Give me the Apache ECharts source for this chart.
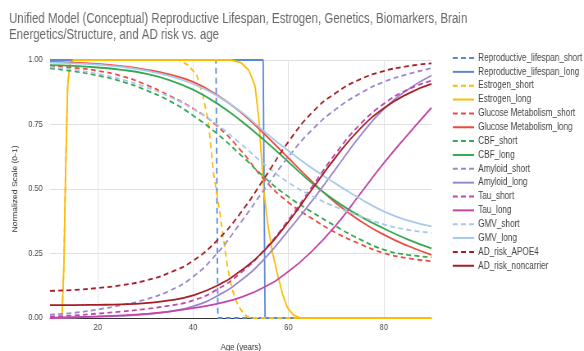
<!DOCTYPE html>
<html>
<head>
<meta charset="utf-8">
<script src="https://cdn.jsdelivr.net/npm/echarts@6/dist/echarts.min.js"></script>
<style>
  html, body { margin: 0; padding: 0; background: #fff; overflow: hidden; }
  /* the reference is a horizontally squeezed render, so draw wider and squeeze */
  #chart { width: 712px; height: 351px; transform: scaleX(0.8202); transform-origin: 0 0; }
</style>
</head>
<body>
<div id="chart"></div>
<script>
// ages shared by the smooth curves
const ages = [10, 15, 20, 25, 30, 35, 40, 45, 50, 55, 60, 65, 70, 75, 80, 85, 90];

const glucoseShort = [0.978, 0.970, 0.958, 0.938, 0.905, 0.862, 0.812, 0.745, 0.650, 0.535, 0.448, 0.385, 0.330, 0.287, 0.252, 0.232, 0.220];
const glucoseLong = [0.993, 0.990, 0.985, 0.976, 0.963, 0.944, 0.915, 0.865, 0.797, 0.712, 0.620, 0.528, 0.445, 0.377, 0.323, 0.280, 0.245];
const cbfShort = [0.968, 0.956, 0.940, 0.917, 0.884, 0.842, 0.785, 0.715, 0.632, 0.545, 0.470, 0.410, 0.355, 0.305, 0.265, 0.245, 0.236];
const cbfLong = [0.980, 0.977, 0.971, 0.962, 0.947, 0.922, 0.885, 0.832, 0.765, 0.688, 0.605, 0.522, 0.452, 0.395, 0.347, 0.305, 0.270];
const amyloidShort = [0.013, 0.020, 0.033, 0.050, 0.072, 0.105, 0.160, 0.250, 0.370, 0.500, 0.625, 0.730, 0.810, 0.870, 0.915, 0.945, 0.968];
const amyloidLong = [0.000, 0.002, 0.005, 0.008, 0.014, 0.025, 0.045, 0.085, 0.145, 0.230, 0.340, 0.455, 0.580, 0.705, 0.810, 0.885, 0.940];
const tauShort = [0.005, 0.010, 0.017, 0.025, 0.035, 0.048, 0.068, 0.110, 0.175, 0.265, 0.380, 0.510, 0.640, 0.750, 0.830, 0.885, 0.920];
const tauLong = [0.000, 0.003, 0.006, 0.010, 0.016, 0.025, 0.038, 0.055, 0.080, 0.120, 0.180, 0.260, 0.360, 0.480, 0.600, 0.710, 0.815];
const gmvShort = [0.972, 0.962, 0.946, 0.925, 0.895, 0.858, 0.810, 0.750, 0.675, 0.595, 0.525, 0.472, 0.430, 0.395, 0.363, 0.342, 0.330];
const gmvLong = [0.990, 0.987, 0.982, 0.973, 0.959, 0.938, 0.907, 0.862, 0.800, 0.722, 0.648, 0.580, 0.520, 0.463, 0.413, 0.378, 0.355];
const riskApoe4 = [0.105, 0.109, 0.116, 0.127, 0.145, 0.175, 0.222, 0.300, 0.408, 0.543, 0.683, 0.797, 0.873, 0.925, 0.957, 0.976, 0.987];
const riskNoncarrier = [0.050, 0.050, 0.051, 0.053, 0.058, 0.068, 0.088, 0.125, 0.183, 0.262, 0.373, 0.500, 0.625, 0.733, 0.813, 0.869, 0.907];

// step-like curves need their own ages
const reproShortAges = [10, 44.8, 45.2, 90];
const reproShortVals = [1, 1, 0, 0];
const reproLongAges = [10, 54.7, 55.1, 90];
const reproLongVals = [1, 1, 0, 0];
const estrogenShortAges = [10, 12.5, 12.9, 13.3, 13.7, 14.2, 15, 37, 39, 40.8, 42.1, 43.2, 44.3, 45, 45.6, 46.5, 47.3, 48.2, 49.5, 51, 52, 90];
const estrogenShortVals = [0, 0, 0.2, 0.6, 0.9, 0.99, 1, 1, 0.98, 0.94, 0.86, 0.76, 0.56, 0.48, 0.41, 0.29, 0.19, 0.11, 0.045, 0.01, 0, 0];
const estrogenLongAges = [10, 12.5, 12.9, 13.3, 13.7, 14.2, 15, 48, 50, 51.7, 53, 53.8, 54.8, 55.7, 56.6, 57.7, 58.8, 59.8, 61, 62.5, 90];
const estrogenLongVals = [0, 0, 0.2, 0.6, 0.9, 0.99, 1, 1, 0.99, 0.96, 0.9, 0.77, 0.5, 0.36, 0.26, 0.17, 0.09, 0.04, 0.012, 0, 0];

const xTicks = [20, 40, 60, 80];

const pair = (xs, ys) => xs.map((x, i) => [x, ys[i]]);

const C = {
  blue: '#5b87d7', yellow: '#fbbc04', red: '#ee4b3f', green: '#34a853',
  purple: '#9b87cf', magenta: '#c247a8', lightblue: '#a7c9ec', darkred: '#a61d24',
};

const seriesDefs = [
  ['Reproductive_lifespan_short', C.blue, true, pair(reproShortAges, reproShortVals), false],
  ['Reproductive_lifespan_long', C.blue, false, pair(reproLongAges, reproLongVals), false],
  ['Estrogen_short', C.yellow, true, pair(estrogenShortAges, estrogenShortVals), false],
  ['Estrogen_long', C.yellow, false, pair(estrogenLongAges, estrogenLongVals), false],
  ['Glucose Metabolism_short', C.red, true, pair(ages, glucoseShort), true],
  ['Glucose Metabolism_long', C.red, false, pair(ages, glucoseLong), true],
  ['CBF_short', C.green, true, pair(ages, cbfShort), true],
  ['CBF_long', C.green, false, pair(ages, cbfLong), true],
  ['Amyloid_short', C.purple, true, pair(ages, amyloidShort), true],
  ['Amyloid_long', C.purple, false, pair(ages, amyloidLong), true],
  ['Tau_short', C.magenta, true, pair(ages, tauShort), true],
  ['Tau_long', C.magenta, false, pair(ages, tauLong), true],
  ['GMV_short', C.lightblue, true, pair(ages, gmvShort), true],
  ['GMV_long', C.lightblue, false, pair(ages, gmvLong), true],
  ['AD_risk_APOE4', C.darkred, true, pair(ages, riskApoe4), true],
  ['AD_risk_noncarrier', C.darkred, false, pair(ages, riskNoncarrier), true],
];

const font = "'Liberation Sans', Arial, sans-serif";

const chart = echarts.init(document.getElementById('chart'), null, { renderer: 'canvas' });

chart.setOption({
  animation: false,
  title: {
    text: 'Unified Model (Conceptual) Reproductive Lifespan, Estrogen, Genetics, Biomarkers, Brain\nEnergetics/Structure, and AD risk vs. age',
    left: 11,
    top: 11,
    padding: 0,
    textStyle: { fontFamily: font, fontSize: 14, lineHeight: 16, fontWeight: 'normal', color: '#666' },
  },
  legend: {
    orient: 'vertical',
    left: 551,
    top: 53,
    padding: 0,
    itemWidth: 26,
    itemHeight: 12,
    itemGap: 3.85,
    itemStyle: { opacity: 0 },
    textStyle: { fontFamily: font, fontSize: 10, color: '#444' },
    data: seriesDefs.map((d) => d[0]),
  },
  grid: { left: 61, right: 186, top: 60, bottom: 33, containLabel: false, outerBoundsMode: 'none' },
  xAxis: {
    type: 'value',
    min: 10,
    max: 90,
    name: 'Age (years)',
    nameLocation: 'middle',
    nameGap: 24,
    nameTextStyle: { fontFamily: font, fontSize: 9.5, color: '#333' },
    axisLine: { show: true, onZero: false, lineStyle: { color: '#333', width: 1 } },
    axisTick: { show: false, customValues: xTicks },
    axisLabel: { customValues: xTicks, fontFamily: font, fontSize: 9, color: '#444', margin: 5 },
    splitLine: { show: true, lineStyle: { color: '#e0e0e0', width: 1 } },
  },
  yAxis: {
    type: 'value',
    min: 0,
    max: 1,
    interval: 0.25,
    name: 'Normalized Scale (0-1)',
    nameLocation: 'middle',
    nameGap: 38,
    nameTextStyle: { fontFamily: font, fontSize: 8.5, color: '#333' },
    axisLine: { show: false },
    axisTick: { show: false },
    axisLabel: {
      fontFamily: font, fontSize: 9, color: '#444', margin: 9,
      formatter: (v) => v.toFixed(2),
    },
    splitLine: { show: true, lineStyle: { color: '#e0e0e0', width: 1 } },
  },
  series: seriesDefs.map(([name, color, dashed, data, smooth]) => ({
    name,
    type: 'line',
    data,
    smooth: smooth ? 0.5 : false,
    symbol: 'none',
    showSymbol: false,
    color,
    itemStyle: { opacity: 0 },
    lineStyle: { color, width: 1.8, type: dashed ? [6, 4] : 'solid' },
  })),
});
</script>
</body>
</html>
